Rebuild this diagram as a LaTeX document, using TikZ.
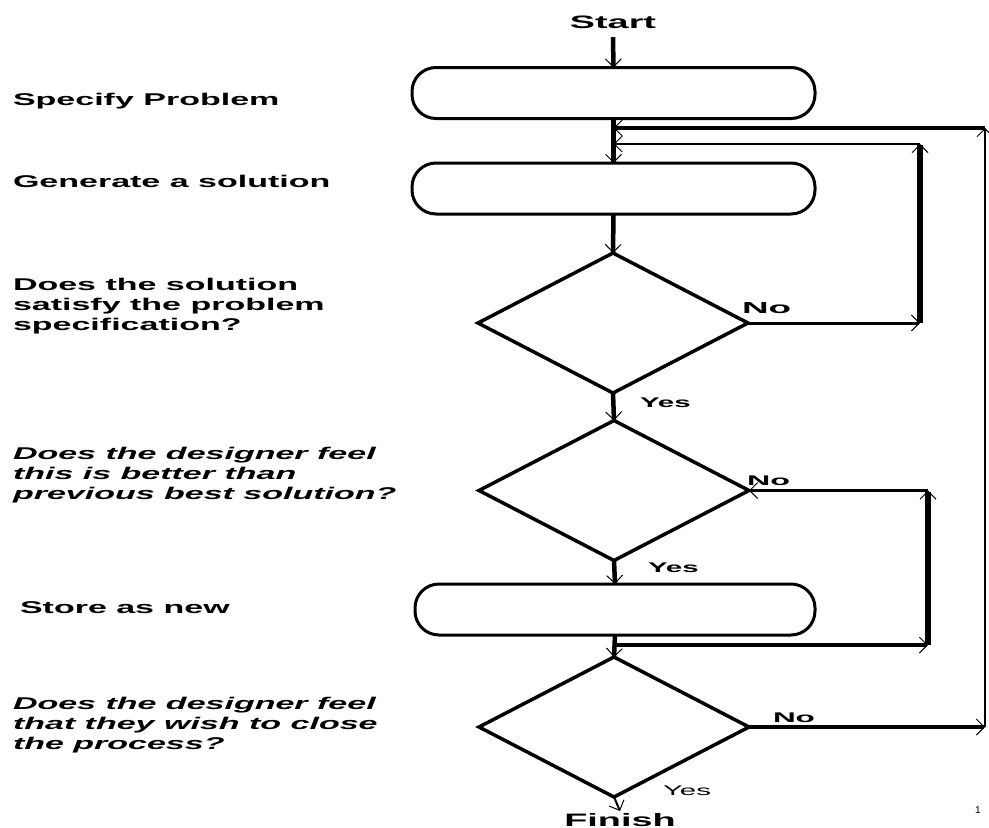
\documentclass[tikz,border=0pt]{standalone}
\usepackage{fontspec}
\usepackage{graphicx}
\setmainfont{Liberation Sans}
\usetikzlibrary{shapes.geometric,arrows.meta}
\newcommand{\widetxt}[2][2]{\scalebox{#1}[1]{#2}}
\newcommand{\stack}[1]{\begin{tabular}[t]{@{}l@{}}#1\end{tabular}}
\begin{document}
\begin{tikzpicture}[x=1pt,y=-1pt,
  tipx/.style={-{Straight Barb[length=8pt,width=16pt,line width=1pt]}},
  flow/.style={line width=4.5pt,tipx},
  procbox/.style={draw,line width=3pt,rounded corners=24pt,minimum width=403pt,minimum height=51pt,inner sep=0pt,outer sep=0pt},
  decide/.style={draw,diamond,line width=3.5pt,minimum width=270pt,minimum height=140pt,inner sep=0pt,outer sep=0pt},
  lbl/.style={inner sep=0pt,outer sep=0pt,anchor=base west,font=\fontsize{17}{20}\selectfont\bfseries},
  ilbl/.style={lbl,font=\fontsize{17}{20}\selectfont\bfseries\itshape},
  endlbl/.style={inner sep=0pt,outer sep=0pt,anchor=base,font=\fontsize{18}{20}\selectfont\bfseries},
  yn/.style={inner sep=0pt,outer sep=0pt,anchor=base west,font=\fontsize{14}{16}\selectfont\bfseries},
]
\useasboundingbox (0,0) rectangle (989,828);

% left-hand descriptions
\node[lbl] (tsp) at (13,105) {\widetxt{Specify Problem}};
\node[lbl] (tgen) at (13,187) {\widetxt{Generate a solution}};
\node[lbl] (tq1) at (13,290) {\widetxt{\stack{Does the solution\\satisfy the problem\\specification?}}};
\node[ilbl] (tq2) at (13,459) {\widetxt{\stack{Does the designer feel\\this is better than\\previous best solution?}}};
\node[lbl] (tst) at (20,613) {\widetxt{Store as new}};
\node[ilbl] (tq3) at (13,709) {\widetxt{\stack{Does the designer feel\\that they wish to close\\the process?}}};

% flow nodes
\node[endlbl] (start) at (613,28) {\widetxt[2.1]{Start}};
\node[procbox] (b1) at (613.5,93) {};
\node[procbox] (b2) at (613.5,188.5) {};
\node[decide] (d1) at (613,323) {};
\node[decide] (d2) at (614,490.5) {};
\node[procbox,minimum width=400pt] (b3) at (615,609.5) {};
\node[decide] (d3) at (614,727) {};
\node[endlbl] (finish) at (620,826) {\widetxt[2.1]{Finish}};

% branch labels
\node[yn] (yes1) at (640,407) {\widetxt[2.1]{Yes}};
\node[yn] (yes2) at (648,572) {\widetxt[2.1]{Yes}};
\node[yn,font=\fontsize{14}{16}\selectfont] (yes3) at (663,795) {\widetxt[2.1]{Yes}};
\node[yn,font=\fontsize{16}{18}\selectfont\bfseries] (no1) at (742,313) {\widetxt[2.3]{No}};
\node[yn] (no2) at (747,485) {\widetxt[2.3]{No}};
\node[yn] (no3) at (773,722) {\widetxt[2.25]{No}};
\node[inner sep=0pt,font=\fontsize{10}{12}\selectfont] (pg) at (978,810) {1};

% loop corner coordinates
\coordinate (r1) at (920,323);
\coordinate (r1t) at (920,144);
\coordinate (j1) at (613.5,144);
\coordinate (s2) at (613.5,645);
\coordinate (r2) at (928,645);
\coordinate (r2t) at (928,490.5);
\coordinate (r3) at (985,727);
\coordinate (r3t) at (985,128);
\coordinate (j3) at (613.5,128);

% main flow
\draw[flow] ([yshift=-9pt]start.south) -- (b1.north);
\draw[flow] (b1.south) -- (b2.north);
\draw[flow] (b2.south) -- (d1.north);
\draw[flow] (d1.south) -- (d2.north);
\draw[flow] (d2.south) -- (b3.north);
\draw[flow] (b3.south) -- (d3.north);
\draw[line width=2pt,tipx] (d3.south) -- ([yshift=2pt]finish.north);

% loop from first decision
\draw[line width=3pt,tipx] (d1.east) -- (r1);
\draw[line width=6pt,tipx] (r1) -- (r1t);
\draw[line width=2.5pt,tipx] (r1t) -- (j1);

% loop from second decision
\draw[line width=3.5pt,tipx] (s2) -- (r2);
\draw[line width=6pt,tipx] (r2) -- (r2t);
\draw[line width=2.5pt,tipx] (r2t) -- (d2.east);

% loop from third decision
\draw[line width=3.5pt,tipx] (d3.east) -- (r3);
\draw[line width=2pt,tipx] (r3) -- (r3t);
\draw[line width=4pt,tipx] (r3t) -- (j3);
\end{tikzpicture}
\end{document}
